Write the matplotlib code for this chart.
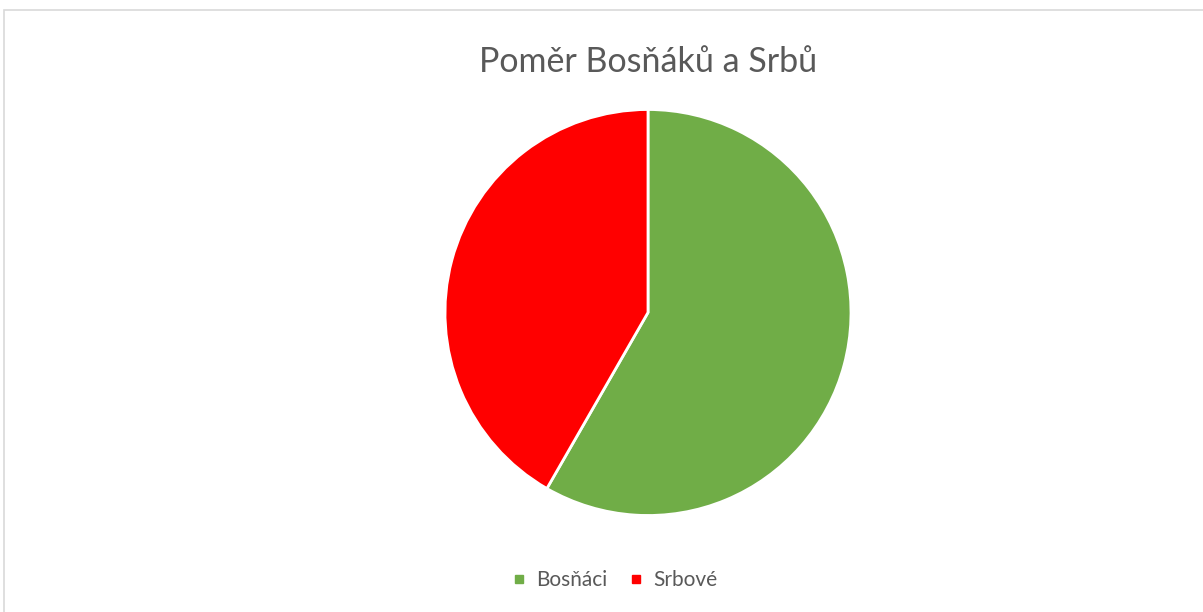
import matplotlib.pyplot as plt
from matplotlib.patches import Rectangle
from matplotlib.lines import Line2D

# data
labels = ['Bosňáci', 'Srbové']
values = [58.3, 41.7]
colors = ['#70AD47', '#FF0000']

W, H = 1203, 612
fig = plt.figure(figsize=(W / 100, H / 100), dpi=100)
plt.rcParams['font.family'] = ['Lato', 'DejaVu Sans']

# chart frame (cropped on right/bottom)
fig.patches.append(Rectangle((3.5 / W, -0.1), 1.2, 1 - 9.5 / H + 0.1, transform=fig.transFigure,
                             fill=False, edgecolor='#D9D9D9', linewidth=1.2))

cx, cy, r = 648, 312.5, 203
ax = fig.add_axes([(cx - r) / W, (H - cy - r) / H, 2 * r / W, 2 * r / H])
ax.pie(values, colors=colors, startangle=90, counterclock=False,
       wedgeprops=dict(edgecolor='white', linewidth=2))
ax.set_xlim(-1, 1)
ax.set_ylim(-1, 1)
ax.set_aspect('auto')
ax.axis('off')

fig.text(cx / W, 1 - 62 / H, 'Poměr Bosňáků a Srbů', ha='center', va='center',
         fontsize=24.5, color='#595959')

handles = [Line2D([], [], marker='s', linestyle='none', markersize=6, color=c) for c in colors]
fig.legend(handles, labels, loc='center', bbox_to_anchor=(614 / W, 1 - 580 / H), ncol=2,
           frameon=False, fontsize=15, labelcolor='#595959', handlelength=0.8,
           handletextpad=0.4, columnspacing=1.0)

fig.savefig('out.png', dpi=100)
